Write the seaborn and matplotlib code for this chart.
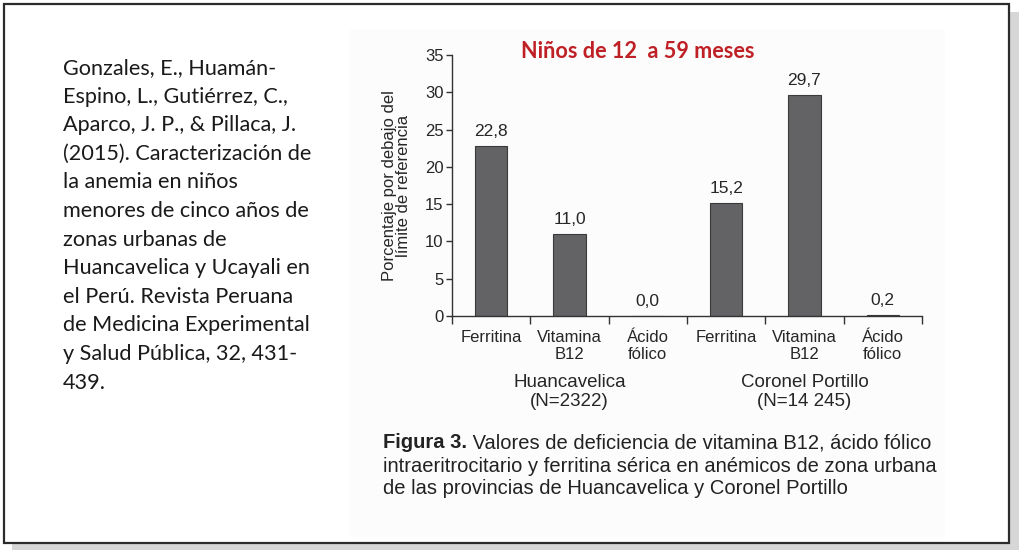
import numpy as np
import pandas as pd
import matplotlib
matplotlib.use("Agg")
import matplotlib.pyplot as plt
from matplotlib.patches import Rectangle
import seaborn as sns

sns.set_theme(style="ticks")
plt.rcParams['font.family'] = ['Liberation Sans', 'DejaVu Sans']

# datos
grupos = ["Huancavelica\n(N=2322)", "Coronel Portillo\n(N=14 245)"]
nutrientes = ["Ferritina", "Vitamina\nB12", "Ácido\nfólico"]
huancavelica = [22.8, 11.0, 0.0]
coronel_portillo = [15.2, 29.7, 0.2]
titulo = "Niños de 12  a 59 meses"
cita = ["Gonzales, E., Huamán-",
        "Espino, L., Gutiérrez, C.,",
        "Aparco, J. P., & Pillaca, J.",
        "(2015). Caracterización de",
        "la anemia en niños",
        "menores de cinco años de",
        "zonas urbanas de",
        "Huancavelica y Ucayali en",
        "el Perú. Revista Peruana",
        "de Medicina Experimental",
        "y Salud Pública, 32, 431-",
        "439."]
leyenda = ["Valores de deficiencia de vitamina B12, ácido fólico",
           "intraeritrocitario y ferritina sérica en anémicos de zona urbana",
           "de las provincias de Huancavelica y Coronel Portillo"]

df = pd.DataFrame({
    "clave": [f"{g}|{n}" for g in grupos for n in nutrientes],
    "nutriente": nutrientes * 2,
    "grupo": [g for g in grupos for _ in nutrientes],
    "valor": huancavelica + coronel_portillo,
})

fig = plt.figure(figsize=(10.19, 5.5), dpi=100)

# fondo tipo diapositiva (coordenadas en pixeles)
bg = fig.add_axes([0, 0, 1, 1])
bg.set_xlim(0, 1019)
bg.set_ylim(550, 0)
bg.axis("off")
bg.add_patch(Rectangle((12, 12), 1007, 538, facecolor="#d6d6d6", edgecolor="none"))
bg.add_patch(Rectangle((4, 4), 1005, 539, facecolor="white", edgecolor="#2b2b2b", lw=1.6))
bg.add_patch(Rectangle((350, 30), 595, 507, facecolor="#fcfcfc", edgecolor="none"))

for i, linea in enumerate(cita):
    bg.text(63, 68 + i * 28.6, linea, family=["Lato", "DejaVu Sans"], fontsize=15.6,
            va="center", ha="left", color="#1a1a1a")

bg.text(638, 51, titulo, family=["Lato", "DejaVu Sans"], fontsize=15.6,
        fontweight="bold", color="#BF2026", ha="center", va="center")

negrita = bg.text(383, 443, "Figura 3.", fontsize=14.5, fontweight="bold",
                  color="#222222", ha="left", va="center")
bg.annotate(" " + leyenda[0], xy=(1, 0), xycoords=negrita, fontsize=14.5,
            color="#222222", ha="left", va="bottom")
for i, linea in enumerate(leyenda[1:]):
    bg.text(383, 466 + i * 23, linea, fontsize=14.5, color="#222222",
            ha="left", va="center")

# grafico de barras
ax = fig.add_axes([452 / 1019, 1 - 316 / 550, 470 / 1019, 261 / 550])
ax.set_facecolor("none")
sns.barplot(data=df, x="clave", y="valor", order=list(df["clave"]),
            color="#636366", edgecolor="#3a3a3a", linewidth=0.8,
            width=0.41, saturation=1, ax=ax)

ax.set_xlim(-0.5, 5.5)
ax.set_ylim(0, 35)
ax.set_yticks(np.arange(0, 36, 5))
ax.tick_params(axis="y", labelsize=12, length=4, width=1, color="#333333", pad=2)

ax.set_xticks(np.arange(-0.5, 6, 1))
ax.set_xticklabels([])
ax.set_xticks(np.arange(6), minor=True)
ax.set_xticklabels(df["nutriente"], minor=True, fontsize=12, va="top",
                   linespacing=1.2)
ax.tick_params(axis="x", which="major", length=6, width=1, color="#333333")
ax.tick_params(axis="x", which="minor", length=0, pad=10)

ax.set_xlabel("")
ax.set_ylabel("Porcentaje por debajo del\nlímite de referencia", fontsize=12,
              linespacing=0.95, labelpad=10)

for sp in ["top", "right"]:
    ax.spines[sp].set_visible(False)
for sp in ["left", "bottom"]:
    ax.spines[sp].set_color("#333333")
    ax.spines[sp].set_linewidth(1)

etiquetas = [f"{v:.1f}".replace(".", ",") for v in df["valor"]]
ax.bar_label(ax.containers[0], labels=etiquetas, fontsize=12.5, padding=5)

for i, g in enumerate(grupos):
    ax.text(i * 3 + 1, -0.29, g, transform=ax.get_xaxis_transform(),
            ha="center", va="center", fontsize=13.5, linespacing=1.15)

fig.savefig("out.png", dpi=100)
